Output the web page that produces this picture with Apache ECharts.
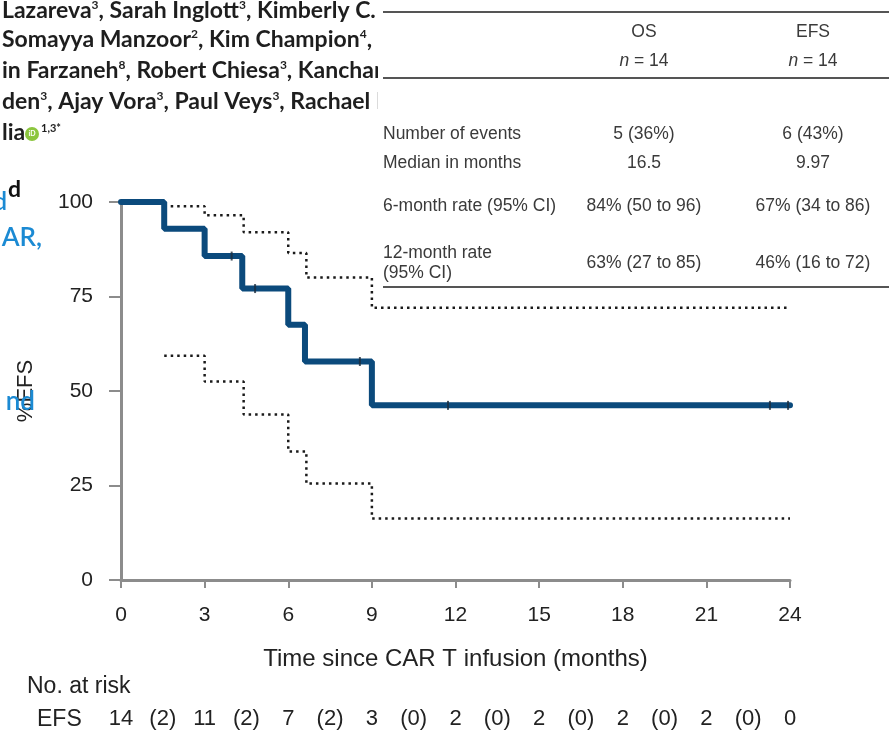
<!DOCTYPE html>
<html>
<head>
<meta charset="utf-8">
<script src="https://cdn.jsdelivr.net/npm/echarts@6/dist/echarts.min.js"></script>
<style>
html,body{margin:0;padding:0;background:#fff;}
#chart{width:889px;height:732px;}
</style>
</head>
<body>
<div id="chart"></div>
<script>
// ---- data ----
const efsTime = [0, 1.55, 3.0, 4.35, 6.0, 6.6, 9.0, 24];
const efsValue = [100, 92.9, 85.7, 77.1, 67.5, 57.8, 46.2, 46.2];
const upperTime = [1.55, 3.0, 4.4, 6.0, 6.65, 9.0, 24];
const upperValue = [98.9, 96.5, 92.0, 86.5, 80.0, 72.0, 72.0];
const lowerTime = [1.55, 3.0, 4.4, 6.0, 6.65, 9.0, 24];
const lowerValue = [59.3, 52.5, 43.8, 34.0, 25.5, 16.3, 16.3];
const censorTime = [3.97, 4.81, 8.57, 11.73, 23.28, 23.93];
const censorValue = [85.7, 77.1, 57.8, 46.2, 46.2, 46.2];
const atRiskLabels = ['14','(2)','11','(2)','7','(2)','3','(0)','2','(0)','2','(0)','2','(0)','2','(0)','0'];

const tableHeaders = ['OS', 'EFS'];
const tableN = ['14', '14'];
const rowLabels = ['Number of events', 'Median in months', '6-month rate (95% CI)', '12-month rate\n(95% CI)'];
const osValues = ['5 (36%)', '16.5', '84% (50 to 96)', '63% (27 to 85)'];
const efsValues = ['6 (43%)', '9.97', '67% (34 to 86)', '46% (16 to 72)'];

const authorLines = [
  'Lazareva{s|3}, Sarah Inglott{s|3}, Kimberly C.',
  'Somayya Manzoor{s|2}, Kim Champion{s|4}, T',
  'in Farzaneh{s|8}, Robert Chiesa{s|3}, Kanchan',
  'den{s|3}, Ajay Vora{s|3}, Paul Veys{s|3}, Rachael H',
  'lia'
];

// ---- build ----
const FONT = 'Liberation Sans, Arial, sans-serif';
const pair = (xs, ys) => xs.map((x, i) => [x, ys[i]]);

const graphics = [];
const authorY = [11, 40, 71, 102, 133];
authorLines.forEach((t, i) => {
  graphics.push({
    type: 'text', x: 2, y: authorY[i], z: 1,
    style: {
      text: t, fill: '#1e1e1e', font: 'bold 23px Lato, sans-serif', verticalAlign: 'middle',
      rich: { s: { fontSize: 12, fontWeight: 'bold', fontFamily: 'Lato', fill: '#1e1e1e', padding: [0, 0, 12, 0] } }
    }
  });
});
// orcid icon
graphics.push({ type: 'circle', shape: { cx: 32, cy: 134, r: 7 }, style: { fill: '#8cc63f' }, z: 2 });
graphics.push({ type: 'text', x: 32, y: 134, z: 3, style: { text: 'iD', fill: '#fff', font: 'bold 7px Lato', align: 'center', verticalAlign: 'middle' } });
graphics.push({ type: 'text', x: 41, y: 128, z: 3, style: { text: '1,3*', fill: '#1e1e1e', font: 'bold 11px Lato', verticalAlign: 'middle' } });
// blue heading fragments
graphics.push({ type: 'text', x: 7, y: 202, z: 2, style: { text: 'd', fill: '#1b8ad3', font: '600 25px Lato, sans-serif', align: 'right', verticalAlign: 'middle' } });
graphics.push({ type: 'text', x: 8, y: 190, z: 2, style: { text: 'd', fill: '#111', font: 'bold 23px Lato, sans-serif', align: 'left', verticalAlign: 'middle' } });
graphics.push({ type: 'text', x: 42, y: 238, z: 2, style: { text: 'AR,', fill: '#1b8ad3', font: '600 26px Lato, sans-serif', align: 'right', verticalAlign: 'middle' } });
graphics.push({ type: 'text', x: 35, y: 402, z: 2, style: { text: 'nd', fill: '#1b8ad3', font: '600 26px Lato, sans-serif', align: 'right', verticalAlign: 'middle' } });
// white mask to clip author lines
graphics.push({ type: 'rect', shape: { x: 378, y: 0, width: 520, height: 122 }, style: { fill: '#fff' }, z: 5 });

// table
const tLeft = 383, tRight = 900, colOS = 644, colEFS = 813;
[12, 78, 287].forEach(y => {
  graphics.push({ type: 'line', z: 10, shape: { x1: tLeft, y1: y, x2: tRight, y2: y }, style: { stroke: '#555', lineWidth: 2 } });
});
const tFont = '17.5px ' + FONT;
const tColor = '#3a3a3a';
[colOS, colEFS].forEach((cx, i) => {
  graphics.push({ type: 'text', x: cx, y: 32, z: 10, style: { text: tableHeaders[i], fill: tColor, font: tFont, align: 'center', verticalAlign: 'middle' } });
  graphics.push({ type: 'text', x: cx, y: 61, z: 10, style: {
    text: '{i|n} = ' + tableN[i], fill: tColor, font: tFont, align: 'center', verticalAlign: 'middle',
    rich: { i: { fontStyle: 'italic', fontSize: 17.5, fontFamily: 'Liberation Sans', fill: tColor } } } });
});
const rowY = [134, 163, 206, 263];
rowLabels.forEach((lab, i) => {
  graphics.push({ type: 'text', x: tLeft, y: rowY[i], z: 10, style: { text: lab, fill: tColor, font: tFont, align: 'left', verticalAlign: 'middle', lineHeight: 20 } });
  graphics.push({ type: 'text', x: colOS, y: rowY[i], z: 10, style: { text: osValues[i], fill: tColor, font: tFont, align: 'center', verticalAlign: 'middle' } });
  graphics.push({ type: 'text', x: colEFS, y: rowY[i], z: 10, style: { text: efsValues[i], fill: tColor, font: tFont, align: 'center', verticalAlign: 'middle' } });
});
// at-risk headings
graphics.push({ type: 'text', x: 27, y: 687, z: 10, style: { text: 'No. at risk', fill: '#222', font: '23px ' + FONT, verticalAlign: 'middle' } });
graphics.push({ type: 'text', x: 37, y: 720, z: 10, style: { text: 'EFS', fill: '#222', font: '23px ' + FONT, verticalAlign: 'middle' } });

const axisGray = '#8c8c8c';
const option = {
  animation: false,
  backgroundColor: '#fff',
  textStyle: { fontFamily: FONT },
  grid: { left: 121, right: 99, top: 202, bottom: 152 },
  xAxis: [{
    type: 'value', min: 0, max: 24, interval: 3,
    axisLine: { show: true, lineStyle: { color: axisGray, width: 3 } },
    axisTick: { show: true, length: 8, lineStyle: { color: axisGray, width: 2 } },
    axisLabel: { fontSize: 21, color: '#222', margin: 25, fontFamily: FONT },
    splitLine: { show: false },
    name: 'Time since CAR T infusion (months)', nameLocation: 'middle', nameGap: 67,
    nameTextStyle: { fontSize: 24, color: '#222', fontFamily: FONT }
  }, {
    type: 'value', min: 0, max: 24, interval: 1.5, position: 'bottom',
    axisLine: { show: false }, axisTick: { show: false }, splitLine: { show: false },
    axisLabel: { fontSize: 22, color: '#222', margin: 128, fontFamily: FONT,
      formatter: v => atRiskLabels[Math.round(v / 1.5)] }
  }],
  yAxis: {
    type: 'value', min: 0, max: 100, interval: 25,
    axisLine: { show: true, lineStyle: { color: axisGray, width: 3 } },
    axisTick: { show: true, length: 12, lineStyle: { color: axisGray, width: 2 } },
    axisLabel: { fontSize: 21, color: '#222', margin: 28, fontFamily: FONT },
    splitLine: { show: false },
    name: '%EFS', nameLocation: 'middle', nameGap: 84, nameRotate: 90,
    nameTextStyle: { fontSize: 22, color: '#222', fontFamily: FONT }
  },
  series: [{
    type: 'line', step: 'end', data: pair(upperTime, upperValue), symbol: 'none', z: 3,
    lineStyle: { color: '#1a1a1a', width: 2.5, type: [2.5, 4] }
  }, {
    type: 'line', step: 'end', data: pair(lowerTime, lowerValue), symbol: 'none', z: 3,
    lineStyle: { color: '#1a1a1a', width: 2.5, type: [2.5, 4] }
  }, {
    type: 'line', step: 'end', data: pair(efsTime, efsValue), symbol: 'none', z: 4,
    lineStyle: { color: '#0b4a7c', width: 6, cap: 'round' }
  }, {
    type: 'scatter', data: pair(censorTime, censorValue), symbol: 'rect', symbolSize: [2, 9], z: 5,
    itemStyle: { color: '#1c2c3c' }
  }],
  graphic: graphics
};
const chart = echarts.init(document.getElementById('chart'), null, { renderer: 'canvas' });
chart.setOption(option);
</script>
</body>
</html>
